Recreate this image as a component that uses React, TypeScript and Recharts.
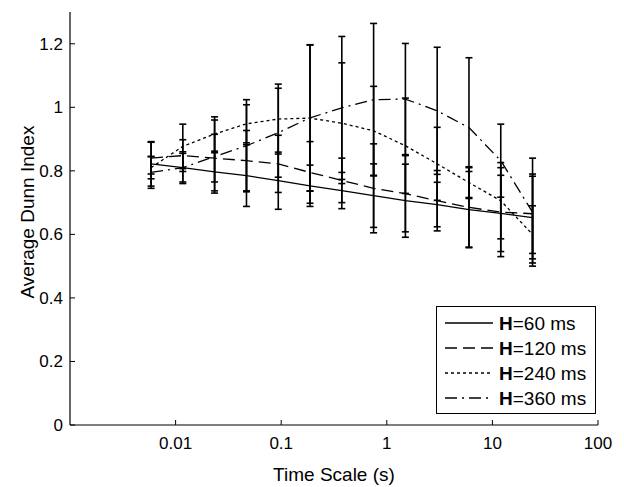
import React from "react";
import { ComposedChart, Line, ErrorBar, XAxis, YAxis } from "recharts";

// time scales (s), doubling each step
const timeScale = [0.00586, 0.0117, 0.0234, 0.0469, 0.0938, 0.1875, 0.375, 0.75, 1.5, 3, 6, 12, 24];

const h60 = [0.822, 0.81, 0.797, 0.785, 0.769, 0.753, 0.738, 0.722, 0.706, 0.694, 0.678, 0.666, 0.653];
const e60 = [0.07, 0.045, 0.06, 0.097, 0.09, 0.065, 0.057, 0.1, 0.115, 0.07, 0.12, 0.12, 0.13];

const h120 = [0.84, 0.848, 0.84, 0.832, 0.822, 0.795, 0.77, 0.745, 0.728, 0.706, 0.685, 0.67, 0.665];
const e120 = [0.05, 0.05, 0.075, 0.095, 0.09, 0.097, 0.07, 0.14, 0.12, 0.095, 0.125, 0.14, 0.125];

const h240 = [0.81, 0.877, 0.916, 0.948, 0.963, 0.966, 0.95, 0.926, 0.879, 0.822, 0.763, 0.706, 0.6];
const e240 = [0.035, 0.07, 0.054, 0.06, 0.11, 0.23, 0.19, 0.14, 0.15, 0.115, 0.05, 0.12, 0.09];

const h360 = [0.795, 0.81, 0.845, 0.879, 0.92, 0.967, 0.998, 1.024, 1.026, 0.989, 0.936, 0.832, 0.67];
const e360 = [0.05, 0.05, 0.115, 0.145, 0.14, 0.23, 0.225, 0.24, 0.175, 0.2, 0.22, 0.115, 0.17];

const xTicks = [0.01, 0.1, 1, 10, 100];
const yTicks = [0, 0.2, 0.4, 0.6, 0.8, 1, 1.2];

const FONT = "'Liberation Sans', Arial, Helvetica, sans-serif";

const series = [
  { key: "h60", err: "e60", label: "60 ms", dash: undefined },
  { key: "h120", err: "e120", label: "120 ms", dash: "12 6" },
  { key: "h240", err: "e240", label: "240 ms", dash: "3 3" },
  { key: "h360", err: "e360", label: "360 ms", dash: "12 5 2 5" },
];

const data = timeScale.map((t, i) => ({
  t,
  h60: h60[i],
  e60: e60[i],
  h120: h120[i],
  e120: e120[i],
  h240: h240[i],
  e240: e240[i],
  h360: h360[i],
  e360: e360[i],
}));

const BottomTick = (props: any) => {
  const { x, y, payload } = props;
  return (
    <g>
      <line x1={x} x2={x} y1={y} y2={y - 5} stroke="#000" />
      <text x={x} y={y + 24} textAnchor="middle" fontSize={17} fontFamily={FONT} fill="#000">
        {String(payload.value)}
      </text>
    </g>
  );
};

const TopTick = (props: any) => {
  const { x, y } = props;
  return <line x1={x} x2={x} y1={y} y2={y + 5} stroke="#000" />;
};

const LeftTick = (props: any) => {
  const { x, y, payload } = props;
  return (
    <g>
      <line x1={x} x2={x + 5} y1={y} y2={y} stroke="#000" />
      <text x={x - 7} y={y + 6} textAnchor="end" fontSize={17} fontFamily={FONT} fill="#000">
        {String(payload.value)}
      </text>
    </g>
  );
};

const RightTick = (props: any) => {
  const { x, y } = props;
  return <line x1={x} x2={x - 5} y1={y} y2={y} stroke="#000" />;
};

function LegendBox() {
  return (
    <svg
      width={160}
      height={108}
      style={{ position: "absolute", left: 436, top: 306 }}
    >
      <rect x={0.5} y={0.5} width={159} height={107} fill="#fff" stroke="#000" />
      {series.map((s, i) => {
        const cy = 17 + i * 25;
        return (
          <g key={s.key}>
            <line x1={9} x2={57} y1={cy} y2={cy} stroke="#000" strokeWidth={1.3} strokeDasharray={s.dash} />
            <text x={63} y={cy + 7} fontSize={19} fontFamily={FONT} fill="#000">
              <tspan fontWeight="bold">H</tspan>={s.label}
            </text>
          </g>
        );
      })}
    </svg>
  );
}

export default function App() {
  return (
    <div style={{ position: "absolute", left: 0, top: 0, width: 624, height: 487, background: "#fff" }}>
      <ComposedChart
        width={624}
        height={487}
        data={data}
        margin={{ top: 12, right: 26, bottom: 0, left: 0 }}
      >
        <XAxis
          dataKey="t"
          type="number"
          scale="log"
          domain={[0.001, 100]}
          allowDataOverflow
          ticks={xTicks}
          interval={0}
          height={62}
          tickSize={0}
          tickMargin={0}
          tick={<BottomTick />}
          axisLine={{ stroke: "#000", strokeWidth: 1.2 }}
          tickLine={false}
        />
        <XAxis
          xAxisId="top"
          orientation="top"
          dataKey="t"
          type="number"
          scale="log"
          domain={[0.001, 100]}
          allowDataOverflow
          ticks={xTicks}
          interval={0}
          height={0}
          tickSize={0}
          tickMargin={0}
          tick={<TopTick />}
          axisLine={{ stroke: "#000", strokeWidth: 1.2 }}
          tickLine={false}
        />
        <YAxis
          type="number"
          domain={[0, 1.3]}
          allowDataOverflow
          ticks={yTicks}
          interval={0}
          width={70}
          tickSize={0}
          tickMargin={0}
          tick={<LeftTick />}
          axisLine={{ stroke: "#000", strokeWidth: 1.2 }}
          tickLine={false}
          label={{
            value: "Average Dunn Index",
            angle: -90,
            position: "insideLeft",
            dx: 22,
            dy: 80,
            style: { fontSize: 19, fontFamily: FONT, fill: "#000" },
          }}
        />
        <YAxis
          yAxisId="right"
          orientation="right"
          type="number"
          domain={[0, 1.3]}
          allowDataOverflow
          ticks={yTicks}
          interval={0}
          width={0}
          tickSize={0}
          tickMargin={0}
          tick={<RightTick />}
          axisLine={{ stroke: "#000", strokeWidth: 1.2 }}
          tickLine={false}
        />
        {series.map((s) => (
          <Line
            key={s.key}
            dataKey={s.key}
            type="linear"
            stroke="#000"
            strokeWidth={1.3}
            strokeDasharray={s.dash}
            dot={false}
            activeDot={false}
            isAnimationActive={false}
          >
            <ErrorBar dataKey={s.err} direction="y" width={3.5} stroke="#000" strokeWidth={1.6} />
          </Line>
        ))}
      </ComposedChart>
      <div
        style={{
          position: "absolute",
          left: 0,
          width: 668,
          top: 463,
          textAlign: "center",
          fontSize: 19,
          fontFamily: FONT,
          color: "#000",
          lineHeight: "24px",
        }}
      >
        Time Scale (s)
      </div>
      <LegendBox />
    </div>
  );
}
